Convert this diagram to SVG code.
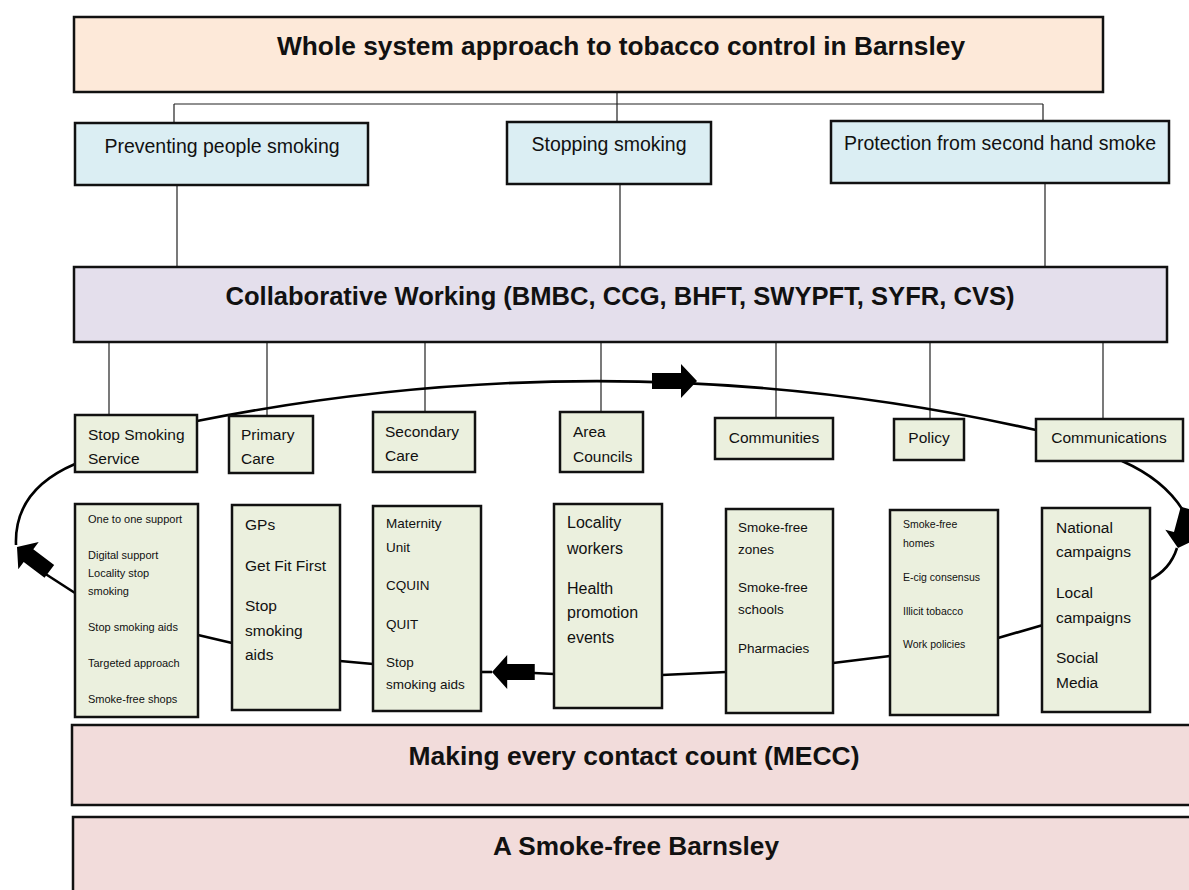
<svg xmlns="http://www.w3.org/2000/svg" width="1189" height="890" viewBox="0 0 1189 890">
<defs>
<style>
.box{stroke:#111;stroke-width:2.5}
.peach{fill:#fde9d9}
.blue{fill:#dbeef3}
.lav{fill:#e4dfec}
.olive{fill:#ebf0de}
.pink{fill:#f2dcdb}
.ln{stroke:#222;stroke-width:1.2;fill:none}
.cyc{stroke:#000;stroke-width:2.6;fill:none}
text{font-family:"Liberation Sans",Arial,sans-serif;fill:#111}
.big{font-size:26px;font-weight:bold;text-anchor:middle}
.hd{font-size:19.5px;text-anchor:middle}
.r1{font-size:15.5px}
.r1c{font-size:15.5px;text-anchor:middle}
.s11{font-size:11px}
.s10{font-size:10.5px}
.s13{font-size:13.5px}
.s15{font-size:15.5px}
.s16{font-size:16px}
</style>
<polygon id="barrow" points="0,0 -16,-17 -16,-8 -45,-8 -45,8 -16,8 -16,17" fill="#000"/>
</defs>

<g id="connectors">
<path class="ln" d="M617,93 V104 M174,104 H1043 M174,104 V123 M617,104 V122 M1043,104 V121"/>
<path class="ln" d="M177,185 V267 M620,184 V267 M1045,183 V267"/>
<path class="ln" d="M109,342 V415 M267,342 V416 M425,342 V412 M601,342 V412 M776,342 V418 M930,342 V419 M1103,342 V419"/>
<path class="cyc" d="M197,421 Q620,337 1036,430"/>
<path class="cyc" d="M1122,461 Q1165,480 1184,512"/>
<path class="cyc" d="M1177,548 Q1170,570 1149,580"/>
<path class="cyc" d="M998,638 L1043,625"/>
<path class="cyc" d="M833,663 L890,656"/>
<path class="cyc" d="M662,675 L726,672"/>
<path class="cyc" d="M534,673 L554,674"/>
<path class="cyc" d="M481,672 L492,672"/>
<path class="cyc" d="M340,661 L373,664"/>
<path class="cyc" d="M198,635 L232,643"/>
<path class="cyc" d="M75,593 L44,573"/>
<path class="cyc" d="M75,464 Q14,490 16,545"/>
<use href="#barrow" transform="translate(697,381)"/>
<use href="#barrow" transform="translate(492,672) rotate(180) scale(0.95,1)"/>
<use href="#barrow" transform="translate(17,547) rotate(-143) scale(0.9,1)"/>
<use href="#barrow" transform="translate(1178,548) rotate(105) scale(0.9,1)"/>
</g>

<g id="title">
<rect class="box peach" x="74" y="17" width="1029" height="75"/>
<text class="big" x="621" y="55" textLength="688" lengthAdjust="spacingAndGlyphs">Whole system approach to tobacco control in Barnsley</text>
</g>

<g id="preventing">
<rect class="box blue" x="75" y="123" width="293" height="62"/>
<text class="hd" x="222" y="153">Preventing people smoking</text>
</g>
<g id="stopping">
<rect class="box blue" x="507" y="122" width="204" height="62"/>
<text class="hd" x="609" y="151">Stopping smoking</text>
</g>
<g id="protection">
<rect class="box blue" x="831" y="121" width="338" height="62"/>
<text class="hd" x="1000" y="150">Protection from second hand smoke</text>
</g>

<g id="collaborative">
<rect class="box lav" x="74" y="267" width="1093" height="75"/>
<text class="big" x="620" y="305" textLength="789" lengthAdjust="spacingAndGlyphs">Collaborative Working (BMBC, CCG, BHFT, SWYPFT, SYFR, CVS)</text>
</g>

<g id="stop-smoking-service">
<rect class="box olive" x="75" y="415" width="122" height="57"/>
<text class="r1" x="88" y="440">Stop Smoking</text>
<text class="r1" x="88" y="464">Service</text>
</g>
<g id="primary-care">
<rect class="box olive" x="229" y="416" width="84" height="57"/>
<text class="r1" x="241" y="440">Primary</text>
<text class="r1" x="241" y="464">Care</text>
</g>
<g id="secondary-care">
<rect class="box olive" x="373" y="412" width="102" height="60"/>
<text class="r1" x="385" y="437">Secondary</text>
<text class="r1" x="385" y="461">Care</text>
</g>
<g id="area-councils">
<rect class="box olive" x="560" y="412" width="83" height="60"/>
<text class="r1" x="573" y="437">Area</text>
<text class="r1" x="573" y="462">Councils</text>
</g>
<g id="communities">
<rect class="box olive" x="715" y="418" width="118" height="41"/>
<text class="r1c" x="774" y="443">Communities</text>
</g>
<g id="policy">
<rect class="box olive" x="894" y="419" width="70" height="41"/>
<text class="r1c" x="929" y="443">Policy</text>
</g>
<g id="communications">
<rect class="box olive" x="1036" y="419" width="147" height="42"/>
<text class="r1c" x="1109" y="443">Communications</text>
</g>

<g id="sss-items">
<rect class="box olive" x="75" y="504" width="123" height="213"/>
<text class="s11" x="88" y="523">One to one support</text>
<text class="s11" x="88" y="559">Digital support</text>
<text class="s11" x="88" y="577">Locality stop</text>
<text class="s11" x="88" y="595">smoking</text>
<text class="s11" x="88" y="631">Stop smoking aids</text>
<text class="s11" x="88" y="667">Targeted approach</text>
<text class="s11" x="88" y="703">Smoke-free shops</text>
</g>
<g id="primary-items">
<rect class="box olive" x="232" y="505" width="108" height="205"/>
<text class="s15" x="245" y="530">GPs</text>
<text class="s15" x="245" y="571">Get Fit First</text>
<text class="s15" x="245" y="611">Stop</text>
<text class="s15" x="245" y="636">smoking</text>
<text class="s15" x="245" y="660">aids</text>
</g>
<g id="secondary-items">
<rect class="box olive" x="373" y="506" width="108" height="205"/>
<text class="s13" x="386" y="528">Maternity</text>
<text class="s13" x="386" y="552">Unit</text>
<text class="s13" x="386" y="590">CQUIN</text>
<text class="s13" x="386" y="629">QUIT</text>
<text class="s13" x="386" y="667">Stop</text>
<text class="s13" x="386" y="689">smoking aids</text>
</g>
<g id="area-items">
<rect class="box olive" x="554" y="504" width="108" height="204"/>
<text class="s16" x="567" y="528">Locality</text>
<text class="s16" x="567" y="554">workers</text>
<text class="s16" x="567" y="594">Health</text>
<text class="s16" x="567" y="618">promotion</text>
<text class="s16" x="567" y="643">events</text>
</g>
<g id="communities-items">
<rect class="box olive" x="726" y="509" width="107" height="204"/>
<text class="s13" x="738" y="532">Smoke-free</text>
<text class="s13" x="738" y="554">zones</text>
<text class="s13" x="738" y="592">Smoke-free</text>
<text class="s13" x="738" y="614">schools</text>
<text class="s13" x="738" y="653">Pharmacies</text>
</g>
<g id="policy-items">
<rect class="box olive" x="890" y="510" width="108" height="205"/>
<text class="s10" x="903" y="528">Smoke-free</text>
<text class="s10" x="903" y="547">homes</text>
<text class="s10" x="903" y="581">E-cig consensus</text>
<text class="s10" x="903" y="615">Illicit tobacco</text>
<text class="s10" x="903" y="648">Work policies</text>
</g>
<g id="communications-items">
<rect class="box olive" x="1042" y="508" width="108" height="204"/>
<text class="s15" x="1056" y="533">National</text>
<text class="s15" x="1056" y="557">campaigns</text>
<text class="s15" x="1056" y="598">Local</text>
<text class="s15" x="1056" y="623">campaigns</text>
<text class="s15" x="1056" y="663">Social</text>
<text class="s15" x="1056" y="688">Media</text>
</g>

<g id="mecc">
<rect class="box pink" x="72" y="725" width="1130" height="80"/>
<text class="big" x="634" y="765" textLength="451" lengthAdjust="spacingAndGlyphs">Making every contact count (MECC)</text>
</g>
<g id="smoke-free-barnsley">
<rect class="box pink" x="73" y="817" width="1130" height="90"/>
<text class="big" x="636" y="855" textLength="286" lengthAdjust="spacingAndGlyphs">A Smoke-free Barnsley</text>
</g>
</svg>
